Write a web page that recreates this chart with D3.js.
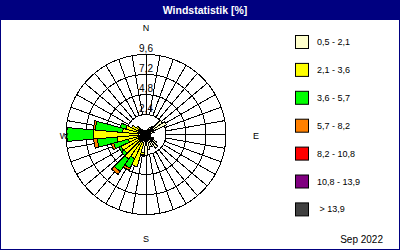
<!DOCTYPE html>
<html>
<head>
<meta charset="utf-8">
<script src="https://cdn.jsdelivr.net/npm/d3@7"></script>
<style>
  html, body { margin: 0; padding: 0; background: #fff; }
  svg { display: block; }
  text { font-family: "Liberation Sans", Arial, sans-serif; }
</style>
</head>
<body>
<script>
// ---- data ----
const directions = d3.range(0, 360, 10);
const classLabels = ["0,5 - 2,1", "2,1 - 3,6", "3,6 - 5,7", "5,7 - 8,2", "8,2 - 10,8", "10,8 - 13,9", " > 13,9"];
const classColors = ["#FFFFCC", "#FFFF00", "#00FF00", "#FF8000", "#FF0000", "#800080", "#404040"];
// percentages per direction (0,10,...,350) for each speed class
const c1 = [0.5,0.4,0.6,0.9,1.2,2.4,2.7,1.0,0.5,0.4,0.5,0.6,1.0,1.6,2.0,1.6,1.5,1.8,2.5,2.2,1.0,0.8,0.8,0.8,0.8,0.7,0.8,0.9,0.8,0.7,0.6,0.5,0.8,0.5,0.4,0.5];
const c2 = [0,0,0,0,0,0,0,0,0,0,0,0,0,0,0,0,0,0,0,0.25,3.0,2.4,2.8,2.4,2.5,1.5,2.7,5.4,2.0,1.8,1.3,0.9,0,0,0,0];
const c3 = [0,0,0,0,0,0,0,0,0,0,0,0,0,0,0,0,0,0,0,0.15,0,1.25,1.8,0.4,0.3,1.8,2.35,3.2,3.3,0.7,0,0,0,0,0,0];
const c4 = [0,0,0,0,0,0,0,0,0,0,0,0,0,0,0,0,0,0,0,0,0,0.3,0.45,0,0,0.3,0.45,0,0.25,0,0,0,0,0,0,0];
const c5 = directions.map(() => 0);
const c6 = directions.map(() => 0);
const c7 = directions.map(() => 0);
const ringTicks = [2.4, 4.8, 7.2, 9.6];
const ringTickLabels = ["2,4", "4,8", "7,2", "9,6"];
const compassLabels = ["N", "E", "S", "W"];
const titleText = "Windstatistik [%]";
const dateText = "Sep 2022";

// ---- layout ----
const W = 400, H = 250;
const cx = 146, cy = 134.5, R = 80;
const navy = "#000080";

const svg = d3.select("body").append("svg").attr("width", W).attr("height", H);

svg.append("rect").attr("x", 0.5).attr("y", 0.5).attr("width", W - 1).attr("height", H - 1)
  .attr("fill", "#fff").attr("stroke", navy);
svg.append("rect").attr("x", 0).attr("y", 0).attr("width", W).attr("height", 20).attr("fill", navy);
svg.append("text").attr("x", 205).attr("y", 14).attr("text-anchor", "middle")
  .attr("fill", "#fff").attr("font-weight", "bold").attr("font-size", 10.5).text(titleText);

const r = d3.scaleLinear().domain([0, 9.6]).range([0, R]);
const ang = d3.scaleLinear().domain([0, 360]).range([0, 2 * Math.PI]);
const color = d3.scaleOrdinal().domain(classLabels).range(classColors);

const g = svg.append("g").attr("transform", `translate(${cx},${cy})`);

// grid: rings
const grid = g.append("g").attr("fill", "none").attr("stroke", "#000").attr("stroke-width", 1)
  .attr("shape-rendering", "crispEdges");
ringTicks.forEach(t => grid.append("circle").attr("r", r(t)));
// spokes
directions.forEach(d => {
  const a = ang(d);
  grid.append("line")
    .attr("x1", Math.sin(a) * r(ringTicks[0])).attr("y1", -Math.cos(a) * r(ringTicks[0]))
    .attr("x2", Math.sin(a) * r(ringTicks[ringTicks.length - 1])).attr("y2", -Math.cos(a) * r(ringTicks[ringTicks.length - 1]));
});

// stacked bars
const series = [c1, c2, c3, c4, c5, c6, c7];
const table = directions.map((d, i) => {
  const row = { dir: d };
  classLabels.forEach((k, j) => row[k] = series[j][i]);
  return row;
});
const stacked = d3.stack().keys(classLabels)(table);
const arc = d3.arc();
const bars = g.append("g").attr("shape-rendering", "crispEdges");
stacked.forEach(layer => {
  bars.selectAll(null).data(layer.filter(p => p[1] - p[0] > 0)).enter().append("path")
    .attr("d", p => arc({
      innerRadius: r(p[0]), outerRadius: r(p[1]),
      startAngle: ang(p.data.dir - 5), endAngle: ang(p.data.dir + 5)
    }))
    .attr("fill", color(layer.key))
    .attr("stroke", "#000").attr("stroke-width", 1);
});

// ring labels
ringTicks.forEach((t, i) => {
  g.append("text").attr("x", 0).attr("y", -r(t) - 3).attr("text-anchor", "middle")
    .attr("font-size", 10).attr("fill", "#000").text(ringTickLabels[i]);
});

// compass labels
const compassPos = [[146, 31], [256, 139], [146, 242], [64, 139]];
compassLabels.forEach((l, i) => {
  svg.append("text").attr("x", compassPos[i][0]).attr("y", compassPos[i][1]).attr("text-anchor", "middle")
    .attr("font-size", 9).attr("fill", "#000").text(l);
});

// legend
const lg = svg.append("g");
classLabels.forEach((l, i) => {
  const y = 35 + i * 27.9;
  lg.append("rect").attr("x", 295.5).attr("y", y + 0.5).attr("width", 13).attr("height", 13)
    .attr("fill", color(l)).attr("stroke", "#000").attr("stroke-width", 1);
  lg.append("text").attr("x", 317).attr("y", y + 10).attr("font-size", 9).attr("fill", "#000")
    .attr("xml:space", "preserve").style("white-space", "pre").text(l);
});

svg.append("text").attr("x", 383).attr("y", 243).attr("text-anchor", "end")
  .attr("font-size", 10).attr("fill", "#000").text(dateText);
</script>
</body>
</html>
